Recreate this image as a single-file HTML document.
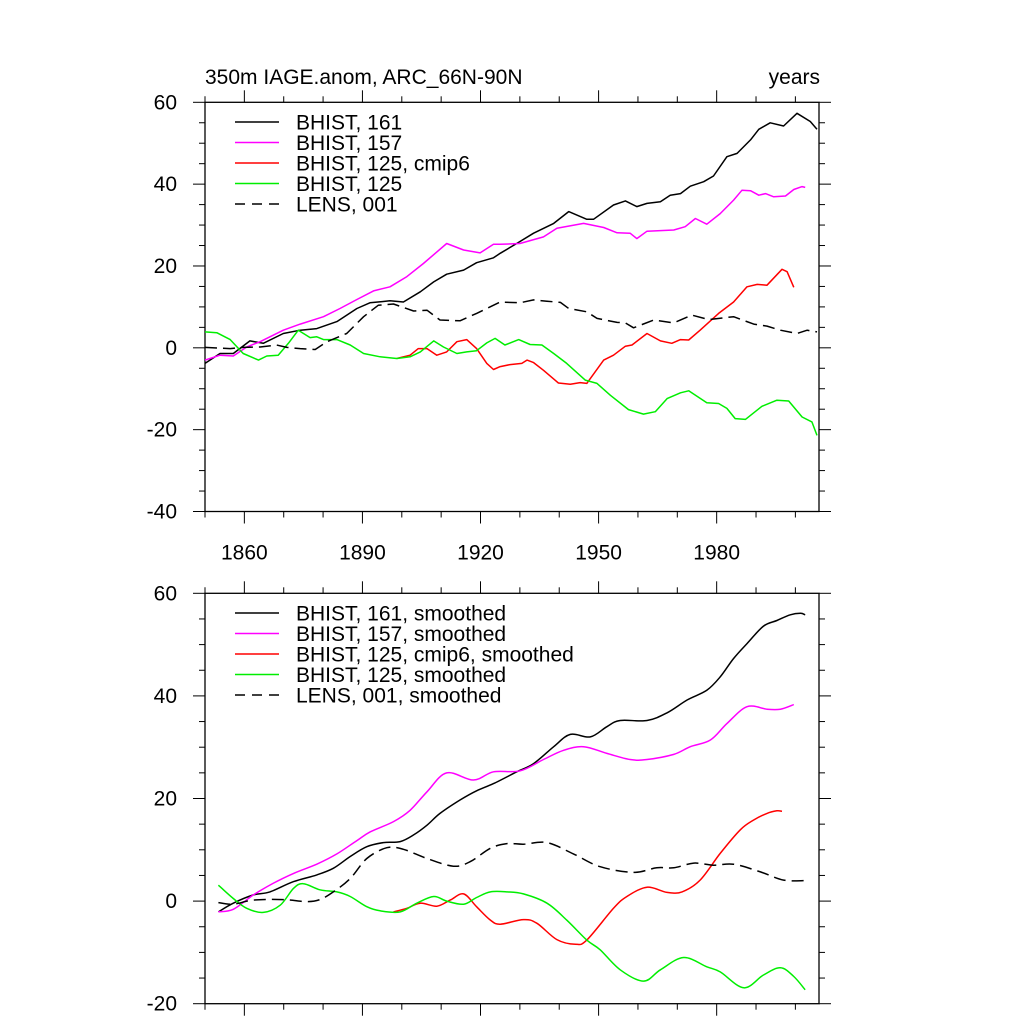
<!DOCTYPE html>
<html><head><meta charset="utf-8"><style>
body{margin:0;background:#fff}
svg{display:block}
text{font-family:"Liberation Sans",sans-serif;fill:#000}
</style></head>
<body>
<svg id="chart" width="1024" height="1024" viewBox="0 0 1024 1024"></svg>
<script>
const topBlackX=[1850,1853.8,1857.2,1861.4,1864.8,1869.9,1874.2,1878.4,1883.5,1888.6,1891.9,1897,1900.4,1904.7,1908.1,1911.4,1915.7,1919,1923.3,1925,1929.2,1933.5,1938.6,1942.4,1947,1948.7,1953.8,1956.8,1959.7,1962.3,1965.7,1968.2,1970.8,1973.3,1976.7,1979.2,1982.6,1985.2,1988.6,1990.7,1993.6,1997,2000.4,2003.8,2005.5];
const topBlackY=[-3.8,-1.4,-1.4,1.7,1.1,3.5,4.3,4.7,6.4,9.6,11,11.5,11.2,13.7,16.1,18,19,20.8,22,23.1,25.5,28,30.4,33.3,31.4,31.4,34.9,35.9,34.5,35.3,35.7,37.3,37.7,39.5,40.6,42,46.7,47.5,50.8,53.4,55,54.2,57.3,55.3,53.4];
const topMagX=[1850,1853.8,1857.2,1860.6,1864,1869.9,1874.2,1880.1,1884.3,1888.6,1892.8,1897,1901.3,1905.5,1911.4,1915.7,1919.9,1923.3,1925,1930,1936,1939.4,1946.2,1951.3,1954.7,1958,1959.7,1962.3,1969.1,1972,1974.6,1977.5,1980.9,1984.3,1986.4,1988.6,1990.7,1992.4,1994.5,1997.5,1999.6,2001.7,2002.5];
const topMagY=[-3,-1.8,-2,0.2,1.5,4.3,5.8,7.6,9.6,11.8,13.9,14.9,17.4,20.6,25.5,23.9,23.2,25.3,25.3,25.5,27.1,29.2,30.4,29.4,28.1,28,26.7,28.5,28.8,29.6,31.6,30.2,32.8,36.1,38.5,38.4,37.3,37.7,36.9,37.1,38.7,39.4,39.2];
const topRedX=[1898.7,1902.1,1904.2,1906.4,1908.9,1911.4,1914,1916.5,1919,1921.6,1923.3,1925,1927.5,1930.5,1931.8,1933.5,1936,1939.8,1942.8,1945.3,1947,1951.3,1953.8,1956.8,1958.5,1962.3,1965.7,1968.6,1970.8,1972.9,1975.8,1980.5,1984.3,1987.7,1990.3,1992.8,1996.6,1997.9,1999.6];
const topRedY=[-2.6,-1.8,-0.2,-0.2,-1.8,-1,1.5,2,-0.2,-3.8,-5.3,-4.6,-4.1,-3.8,-3,-3.6,-5.5,-8.6,-8.9,-8.5,-8.7,-3,-1.8,0.4,0.7,3.5,1.7,1.1,2,1.9,4.3,8.4,11.2,14.9,15.5,15.3,19.2,18.6,14.8];
const topGreenX=[1850,1853,1856.4,1859.7,1863.6,1865.7,1868.6,1871.2,1873.7,1876.7,1878.4,1880.1,1883.5,1886.9,1890.3,1894.5,1898.7,1902.1,1904.7,1908.1,1910.6,1914,1916.5,1919,1921.6,1923.7,1926.2,1929.7,1932.6,1935.6,1938.6,1941.9,1946.6,1949.6,1953,1957.6,1961.4,1964.4,1967.4,1970.8,1972.9,1977.5,1980.5,1982.6,1984.7,1987.3,1991.5,1995.3,1998.3,2001.7,2004.2,2005.5];
const topGreenY=[3.9,3.7,2,-1.4,-3,-2,-1.8,1.1,4.3,2.5,2.7,2,2,0.7,-1.4,-2.2,-2.6,-2.2,-1,1.7,0.2,-1.4,-1,-0.7,1.2,2.3,0.7,2,0.8,0.7,-1.4,-3.8,-7.9,-8.7,-11.6,-15.1,-16.2,-15.6,-12.4,-11,-10.5,-13.4,-13.6,-14.8,-17.3,-17.5,-14.3,-12.8,-13,-16.9,-18.1,-21.4];
const topLensX=[1850,1856.4,1859.7,1864,1868.2,1870.8,1874.2,1878,1881,1886,1890.3,1894,1897.9,1903,1906.4,1909.7,1914.8,1919,1925,1930,1933.5,1936.9,1940.3,1942.4,1947,1949.6,1954.7,1956.8,1958.9,1964,1969.1,1973.7,1978,1984.3,1989.4,1992.8,1996.2,2000.4,2003,2005.5];
const topLensY=[0.1,-0.2,0.1,0.2,0.7,0.1,-0.2,-0.4,1.5,3.5,7.6,10.4,10.7,9,9.2,6.8,6.6,8.4,11.2,11,11.7,11.4,11.1,9.6,8.8,7.2,6.2,6.1,4.9,6.8,6.1,8,6.9,7.6,5.8,5.3,4.3,3.5,4.3,3.9];

const botBlackX=[1853.4,1857.2,1862.3,1866.5,1872.5,1878.4,1882.6,1886.9,1891.1,1895.3,1899.6,1903,1906.4,1909.7,1914.8,1919,1923.3,1929.2,1933.5,1938.6,1942.8,1947.9,1952.1,1955.5,1962.3,1967.4,1972.5,1977.5,1980.9,1984.3,1987.7,1991.9,1995.3,1998.7,2001.3,2002.5];
const botBlackY=[-2.1,-0.4,1.2,1.8,3.8,5.1,6.4,8.7,10.6,11.4,11.6,12.9,14.8,17.1,19.7,21.5,22.9,25.2,26.8,30.1,32.5,32,34,35.2,35.2,36.7,39.2,41.1,43.7,47.3,50.2,53.6,54.7,55.8,56.1,55.8];
const botMagX=[1853.4,1857.2,1862.3,1867.4,1872.5,1878.4,1883.5,1888.6,1892,1897.9,1902.1,1906.4,1911.4,1918.2,1923.3,1930.1,1936,1941.1,1946.2,1952.1,1958,1962.3,1969.1,1973.3,1978.4,1982.6,1987.7,1992.8,1996.2,1999.6];
const botMagY=[-2.1,-1.6,1.2,3.5,5.4,7.2,9.2,11.8,13.5,15.5,17.7,21.3,25,23.6,25.2,25.4,27.6,29.4,30.1,28.8,27.6,27.6,28.6,30.1,31.4,34.6,37.9,37.4,37.4,38.3];
const botRedX=[1897.9,1901.3,1904.7,1908.9,1912.3,1915.7,1919,1922.5,1925,1930.9,1934.3,1939.4,1944.1,1947,1953.8,1957.2,1962.3,1967.4,1971.2,1975.8,1980.9,1986,1989.4,1992.8,1995.3,1996.6];
const botRedY=[-2.1,-1.4,-0.4,-1,0.2,1.4,-1.1,-3.7,-4.5,-3.6,-4.3,-7.5,-8.4,-7.6,-1.4,0.9,2.7,1.7,1.8,4.1,9.3,13.9,15.8,17.1,17.6,17.5];
const botGreenX=[1853.4,1857.2,1860.6,1864.8,1869.1,1872.5,1875,1879.2,1883.5,1886.9,1891.1,1894.5,1899.6,1903.8,1908.1,1911.4,1915.7,1919,1922.5,1926.7,1930.9,1936.9,1941.9,1947,1950.4,1955.5,1961.4,1965.7,1971.6,1977.5,1980.9,1986.9,1991.9,1996.2,1999.6,2002.5];
const botGreenY=[3.1,0.5,-1.4,-2.2,-0.8,2.5,3.4,2.2,1.8,0.9,-1.1,-1.9,-2.1,-0.4,0.9,0,-0.6,0.7,1.8,1.8,1.4,-0.4,-3.7,-7.6,-9.5,-13.4,-15.6,-13.4,-11,-12.8,-13.8,-16.9,-14.4,-13,-14.7,-17.3];
const botLensX=[1853.4,1857.2,1862.3,1869.9,1875.8,1879.2,1882.6,1886.9,1891.1,1896.2,1900.4,1906.4,1913.1,1917.4,1922.5,1926.7,1930.9,1936.9,1943.6,1950.4,1958.9,1964.8,1969.1,1974.2,1979.2,1984.3,1991.1,1997,2002.5];
const botLensY=[-0.3,-0.6,0.2,0.3,-0.1,0.3,1.8,4.4,8.3,10.4,10.1,8.3,6.8,7.7,10.3,11.2,11.1,11.4,9.2,6.7,5.6,6.5,6.5,7.4,7,7.2,5.7,4.1,4.0];

const xTickLabels=[1860,1890,1920,1950,1980];
const topYTicks=[60,40,20,0,-20,-40];
const botYTicks=[60,40,20,0,-20];
const topLegend=["BHIST, 161","BHIST, 157","BHIST, 125, cmip6","BHIST, 125","LENS, 001"];
const botLegend=["BHIST, 161, smoothed","BHIST, 157, smoothed","BHIST, 125, cmip6, smoothed","BHIST, 125, smoothed","LENS, 001, smoothed"];

const NS="http://www.w3.org/2000/svg";
const svg=document.getElementById('chart');
const X0=205,X1=819,Y0=1850,Y1=2006;
const xs=y=>X0+(y-Y0)*(X1-X0)/(Y1-Y0);
function mk(tag,attrs,parent){const e=document.createElementNS(NS,tag);for(const k in attrs)e.setAttribute(k,attrs[k]);(parent||svg).appendChild(e);return e;}
const colors=["#000","#ff00ff","#ff0000","#00ee00","#000"];

function panel(name,top,bottom,vmax,vmin,yticks,series,legend,legendY,showX,smooth){
  const g=mk('g',{});
  
  
  const ys=v=>top+(vmax-v)*(bottom-top)/(vmax-vmin);
  const fr=mk('rect',{x:X0,y:top,width:X1-X0,height:bottom-top,fill:'none',stroke:'#000','stroke-width':1.3},g);
  
  
  for(let v=vmin;v<=vmax;v+=5){
    const L=(v%20===0)?12:6, y=ys(v);
    mk('line',{x1:X0-L,y1:y,x2:X0,y2:y,stroke:'#000','stroke-width':1},g);
    mk('line',{x1:X1,y1:y,x2:X1+L,y2:y,stroke:'#000','stroke-width':1},g);
  }
  yticks.forEach(v=>{
    const t=mk('text',{x:177,y:ys(v)+7,'text-anchor':'end','font-size':21},g);
    t.textContent=String(v);
    
    
  });
  for(let yr=1850;yr<=2000;yr+=10){
    const L=((yr-1860)%30===0)?12:6, x=xs(yr);
    mk('line',{x1:x,y1:top-L,x2:x,y2:top,stroke:'#000','stroke-width':1},g);
    mk('line',{x1:x,y1:bottom,x2:x,y2:bottom+L,stroke:'#000','stroke-width':1},g);
  }
  if(showX){
    xTickLabels.forEach(yr=>{
      const t=mk('text',{x:xs(yr),y:bottom+48,'text-anchor':'middle','font-size':21},g);
      t.textContent=String(yr);
      
      
    });
  }
  series.forEach((s,i)=>{
    const pts=s[0].map((yr,k)=>[xs(yr),ys(s[1][k])]);
    let d='M'+pts[0][0].toFixed(1)+','+pts[0][1].toFixed(1);
    if(smooth){
      for(let k=0;k<pts.length-1;k++){
        const p0=pts[Math.max(0,k-1)],p1=pts[k],p2=pts[k+1],p3=pts[Math.min(pts.length-1,k+2)];
        const c1=[p1[0]+(p2[0]-p0[0])/6,p1[1]+(p2[1]-p0[1])/6];
        const c2=[p2[0]-(p3[0]-p1[0])/6,p2[1]-(p3[1]-p1[1])/6];
        d+=' C'+c1[0].toFixed(1)+','+c1[1].toFixed(1)+' '+c2[0].toFixed(1)+','+c2[1].toFixed(1)+' '+p2[0].toFixed(1)+','+p2[1].toFixed(1);
      }
    } else {
      for(let k=1;k<pts.length;k++) d+=' L'+pts[k][0].toFixed(1)+','+pts[k][1].toFixed(1);
    }
    const p=mk('path',{d:d,fill:'none',stroke:colors[i],'stroke-width':1.5,'stroke-linejoin':'round'},g);
    if(i===4) p.setAttribute('stroke-dasharray','12,6');
    
    
  });
  legend.forEach((lab,i)=>{
    const y=legendY+i*20.5;
    const l=mk('line',{x1:235,y1:y,x2:279,y2:y,stroke:colors[i],'stroke-width':1.5},g);
    if(i===4) l.setAttribute('stroke-dasharray','10,7');
    
    
    const t=mk('text',{x:296,y:y+7.5,'font-size':21},g);
    t.textContent=lab;
    
    
  });
}

const title=mk('text',{x:205,y:84,'font-size':21});
title.textContent='350m IAGE.anom, ARC_66N-90N';


const units=mk('text',{x:820,y:84,'font-size':21,'text-anchor':'end'});
units.textContent='years';



panel('top-panel',102.3,511.5,60,-40,topYTicks,
  [[topBlackX,topBlackY],[topMagX,topMagY],[topRedX,topRedY],[topGreenX,topGreenY],[topLensX,topLensY]],
  topLegend,122,true,false);
panel('bottom-panel',593.3,1003.7,60,-20,botYTicks,
  [[botBlackX,botBlackY],[botMagX,botMagY],[botRedX,botRedY],[botGreenX,botGreenY],[botLensX,botLensY]],
  botLegend,613,false,true);
</script>
</body></html>
